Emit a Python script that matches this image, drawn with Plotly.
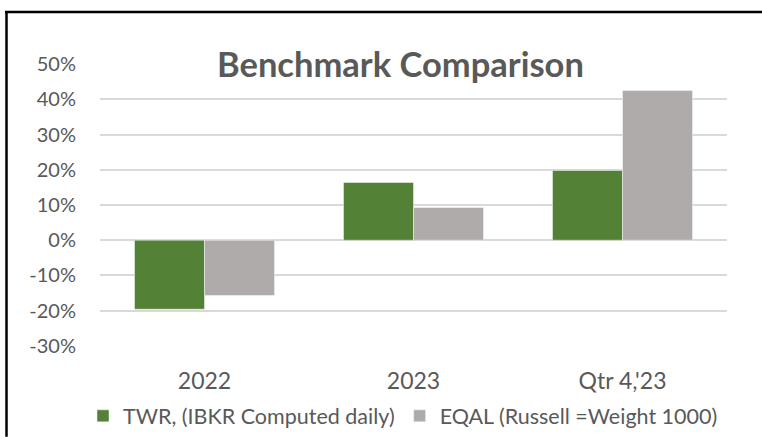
import plotly.graph_objects as go

categories = ["2022", "2023", "Qtr 4,'23"]
twr_values = [-0.196, 0.164, 0.198]
eqal_values = [-0.157, 0.093, 0.425]
series_names = ["TWR, (IBKR Computed daily)", "EQAL (Russell =Weight 1000)"]
y_ticks = [-0.3, -0.2, -0.1, 0.0, 0.1, 0.2, 0.3, 0.4, 0.5]
y_tick_labels = ["-30%", "-20%", "-10%", "0%", "10%", "20%", "30%", "40%", "50%"]

W, H = 762, 437
L, R, T, B = 100, 727, 63.5, 346
FONT = "Lato, 'Open Sans', sans-serif"
TXT = "#595959"

def px(x):
    return (x - L) / (R - L)

def py(y):
    return (B - y) / (B - T)

fig = go.Figure()
fig.add_trace(go.Bar(x=categories, y=twr_values, name=series_names[0],
                     marker=dict(color="#538135", line=dict(color="rgba(255,255,255,0.45)", width=1))))
fig.add_trace(go.Bar(x=categories, y=eqal_values, name=series_names[1],
                     marker=dict(color="#AFABAB", line=dict(color="rgba(255,255,255,0.45)", width=1))))

fig.update_layout(
    width=W, height=H,
    margin=dict(l=L, r=W - R, t=T, b=H - B, pad=0, autoexpand=False),
    paper_bgcolor="white", plot_bgcolor="white",
    barmode="group", bargap=0.33, bargroupgap=0,
    font=dict(family=FONT, size=20, color=TXT),
    showlegend=True,
    legend=dict(orientation="h", x=px(83), xanchor="left", y=py(416), yanchor="middle",
                font=dict(size=21.5, color=TXT), itemwidth=30, traceorder="normal"),
    xaxis=dict(showgrid=False, showline=False, ticks="", tickfont=dict(size=23, color=TXT),
               ticklabelstandoff=19, automargin=False),
    yaxis=dict(range=[-0.3005, 0.5005], tickvals=y_ticks, ticktext=y_tick_labels,
               showgrid=True, gridcolor="#D9D9D9", gridwidth=1.5,
               zeroline=True, zerolinecolor="#D9D9D9", zerolinewidth=1.5,
               showline=False, ticks="", tickfont=dict(size=20, color=TXT),
               ticklabelstandoff=23, automargin=False),
)

fig.add_annotation(text="<b>Benchmark Comparison</b>", xref="paper", yref="paper",
                   x=px(400), y=py(63), xanchor="center", yanchor="middle",
                   showarrow=False, bgcolor="white", borderpad=6,
                   font=dict(family=FONT, size=34.5, color=TXT))

fig.add_shape(type="line", xref="paper", yref="paper", x0=px(5), x1=px(762), y0=py(11.5), y1=py(11.5),
              line=dict(color="black", width=2.5))
fig.add_shape(type="line", xref="paper", yref="paper", x0=px(6.5), x1=px(6.5), y0=py(11), y1=py(437),
              line=dict(color="black", width=2.5))

fig.write_html("out.html", config={"displayModeBar": False},
               post_script="document.body.style.margin='0';document.body.style.overflow='hidden';")
